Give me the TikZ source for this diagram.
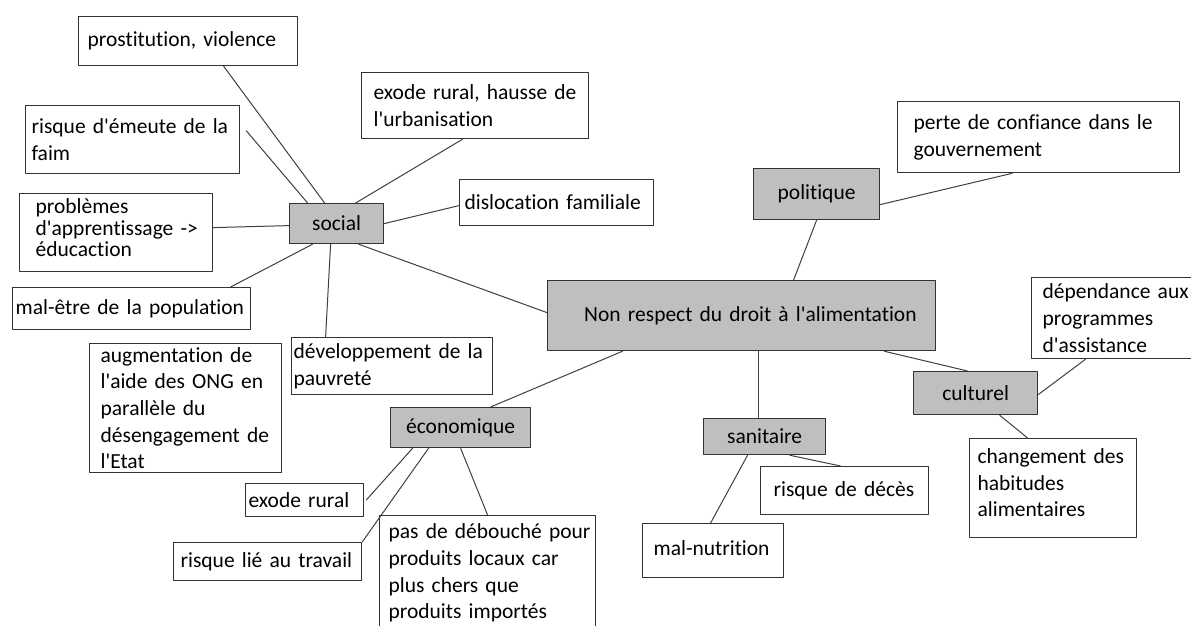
\documentclass[tikz,border=0pt]{standalone}
\usepackage{fontspec}
\setmainfont{Carlito}[Ligatures={TeXOff,CommonOff}]

\tikzset{
  leaf/.style={draw=black!80, line width=1.2pt, fill=white, anchor=north west, align=left,
    inner ysep=0pt, inner xsep=1pt, text=black, font=\fontsize{21.5}{26.7}\selectfont},
  lpad/.style={execute at begin node={\leftskip=#1\relax}},
  branch/.style={draw=black!80, line width=1.2pt, fill=black!25, anchor=north west, align=center,
    inner sep=0pt, text=black, font=\fontsize{21.5}{26.7}\selectfont},
  link/.style={draw=black!75, line width=1pt}
}

\begin{document}
\begin{tikzpicture}[x=1pt, y=-1pt, line join=round]
  \clip (0,0) rectangle (1191,625);
  \fill[white] (0,0) rectangle (1191,625);

  % centre and themes
  \node[branch, minimum width=388pt, minimum height=70pt, text width=350pt, inner xsep=19pt, align=right] (center) at (547,280) {\raisebox{-7pt}{Non respect du droit à l'alimentation}};
  \node[branch, minimum width=94pt, minimum height=40pt] (social) at (289,203) {social};
  \node[branch, minimum width=126pt, minimum height=51pt] (politique) at (753,168) {\raisebox{3pt}{politique}};
  \node[branch, minimum width=140pt, minimum height=40pt] (econ) at (390,407) {économique};
  \node[branch, minimum width=122pt, minimum height=36pt] (sanit) at (703,418) {sanitaire};
  \node[branch, minimum width=124pt, minimum height=43pt] (cultur) at (913,371) {\raisebox{-2pt}{culturel}};

  % social
  \node[leaf, text width=217pt, lpad=8pt, minimum height=49pt] (prost) at (78,16) {prostitution, violence};
  \node[leaf, text width=212pt, lpad=5pt, minimum height=68pt] (emeute) at (25,105) {risque d'émeute de la\\faim};
  \node[leaf, text width=191pt, lpad=15pt, minimum height=78pt, text depth=53pt, font=\fontsize{21.5}{21.7}\selectfont] (apprent) at (19,193) {problèmes\\d'apprentissage ->\\éducaction};
  \node[leaf, text width=236pt, lpad=2pt, minimum height=42pt] (maletre) at (12,287) {mal-être de la population};
  \node[leaf, text width=190pt, lpad=10pt, minimum height=129pt] (augment) at (89,343) {augmentation de\\l'aide des ONG en\\parallèle du\\désengagement de\\l'Etat};
  \node[leaf, text width=199pt, lpad=1pt, minimum height=57pt] (devel) at (291,337) {développement de la\\pauvreté};
  \node[leaf, text width=225pt, lpad=11pt, minimum height=66pt] (exodeurb) at (361,72) {exode rural, hausse de\\l'urbanisation};
  \node[leaf, text width=192pt, lpad=4pt, minimum height=46pt] (disloc) at (459,179) {dislocation familiale};

  % politique
  \node[leaf, text width=280pt, lpad=15pt, minimum height=71pt] (perte) at (897,101) {perte de confiance dans le\\gouvernement};

  % economique
  \node[leaf, text width=116pt, lpad=2pt, minimum height=33pt] (exode) at (245,483) {exode rural};
  \node[leaf, text width=186pt, lpad=6pt, minimum height=38pt] (travail) at (173,542) {risque lié au travail};
  \node[leaf, text width=214pt, lpad=8pt, minimum height=115pt] (debouche) at (379,515) {pas de débouché pour\\produits locaux car\\plus chers que\\produits importés};

  % sanitaire
  \node[leaf, text width=166pt, lpad=12pt, minimum height=48pt] (deces) at (760,466) {risque de décès};
  \node[leaf, text width=139pt, lpad=10pt, minimum height=54pt] (malnut) at (642,523) {\raisebox{6pt}{mal-nutrition}};

  % culturel
  \node[leaf, text width=178pt, lpad=10pt, minimum height=81pt] (depend) at (1031,277) {dépendance aux\\programmes\\d'assistance};
  \node[leaf, text width=165pt, lpad=7pt, minimum height=99pt, text depth=64pt] (change) at (969,438) {changement des\\habitudes\\alimentaires};

  % links
  \draw[link] ([xshift=35.5pt]prost.south) -- ([xshift=-12pt]social.north);
  \draw[link] ([xshift=6pt,yshift=9pt]emeute.east) -- ([xshift=-29pt]social.north);
  \draw[link] ([xshift=-12.5pt]exodeurb.south) -- ([xshift=19pt]social.north);
  \draw[link] (social.east) -- ([yshift=-3pt]disloc.west);
  \draw[link] ([yshift=5pt]apprent.east) -- ([yshift=-2pt]social.west);
  \draw[link] ([xshift=99pt]maletre.north) -- ([xshift=-24pt]social.south);
  \draw[link] ([xshift=-66.5pt]devel.north) -- ([xshift=-6pt]social.south);
  \draw[link] ([xshift=22pt]social.south) -- ([yshift=3pt]center.west);
  \draw[link] (politique.south) -- ([xshift=52pt]center.north);
  \draw[link] ([yshift=-10.5pt]politique.east) -- ([xshift=-26pt]perte.south);
  \draw[link] ([xshift=-119pt]center.south) -- ([xshift=30pt]econ.north);
  \draw[link] ([xshift=-48pt]econ.south) -- ([xshift=2pt]exode.east);
  \draw[link] ([xshift=-32pt]econ.south) -- (travail.north east);
  \draw[link] (econ.south) -- (debouche.north);
  \draw[link] ([xshift=17pt]center.south) -- ([xshift=-6pt]sanit.north);
  \draw[link] ([xshift=25pt]sanit.south) -- ([xshift=-4pt]deces.north);
  \draw[link] ([xshift=-17pt]sanit.south) -- ([xshift=-2.5pt]malnut.north);
  \draw[link] ([xshift=-52pt]center.south east) -- ([xshift=-8pt]cultur.north);
  \draw[link] ([yshift=-1.5pt]cultur.east) -- ([xshift=-36pt]depend.south);
  \draw[link] ([xshift=24pt]cultur.south) -- ([xshift=-25.5pt]change.north);
\end{tikzpicture}
\end{document}
